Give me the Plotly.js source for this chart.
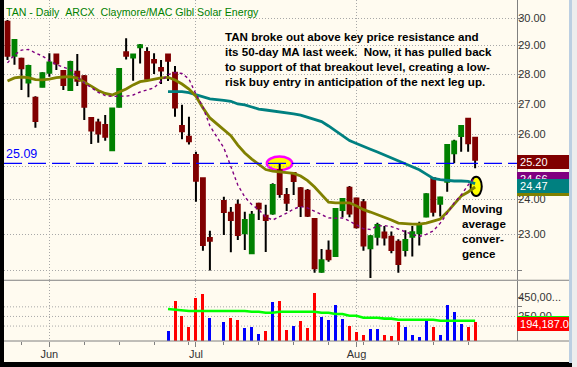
<!DOCTYPE html>
<html>
<head>
<meta charset="utf-8">
<script src="https://cdn.plot.ly/plotly-3.0.1.min.js"></script>
<style>
  html, body { margin: 0; padding: 0; background: #000; }
  #wrap { position: relative; width: 577px; height: 367px; background: #000; overflow: hidden; }
  #strip { position: absolute; left: 569px; top: 0; width: 3px; height: 363px; background: #BCCFE2; }
  #edge { position: absolute; left: 572px; top: 0; width: 5px; height: 367px; background: #EDEDED; }
  #chart { position: absolute; left: 4px; top: 0; width: 565px; height: 362px; }
</style>
</head>
<body>
<div id="wrap">
  <div id="strip"></div>
  <div id="edge"></div>
  <div id="chart"></div>
</div>
<script>
// ---------------- DATA ----------------
const dates = [
  '2008-05-22','2008-05-23','2008-05-27','2008-05-28','2008-05-29','2008-05-30',
  '2008-06-02','2008-06-03','2008-06-04','2008-06-05','2008-06-06',
  '2008-06-09','2008-06-10','2008-06-11','2008-06-12','2008-06-13',
  '2008-06-16','2008-06-17','2008-06-18','2008-06-19','2008-06-20',
  '2008-06-23','2008-06-24','2008-06-25','2008-06-26','2008-06-27','2008-06-30',
  '2008-07-01','2008-07-02','2008-07-03','2008-07-04',
  '2008-07-07','2008-07-08','2008-07-09','2008-07-10','2008-07-11',
  '2008-07-14','2008-07-15','2008-07-16','2008-07-17','2008-07-18',
  '2008-07-21','2008-07-22','2008-07-23','2008-07-24','2008-07-25',
  '2008-07-28','2008-07-29','2008-07-30','2008-07-31','2008-08-01',
  '2008-08-04','2008-08-05','2008-08-06','2008-08-07','2008-08-08',
  '2008-08-11','2008-08-12','2008-08-13','2008-08-14','2008-08-15',
  '2008-08-18','2008-08-19','2008-08-20','2008-08-21','2008-08-22',
  '2008-08-25','2008-08-26'
];
const openP = [29.86,28.64,28.53,27.71,27.20,27.57,28.05,28.68,28.11,27.46,28.08,27.93,26.53,26.38,26.30,25.50,26.90,28.76,28.58,28.94,28.77,28.49,28.21,28.68,28.05,26.27,25.92,25.35,24.63,22.89,null,
  23.95,23.61,23.84,23.02,22.46,23.87,23.52,23.59,24.88,24.13,24.79,24.33,24.26,23.43,21.96,22.53,22.39,23.69,24.35,24.03,23.92,22.60,22.92,23.04,22.92,22.78,22.55,22.92,23.02,23.50,24.63,23.87,24.53,25.40,25.95,26.50,25.89];
const highP = [29.93,29.23,28.57,28.32,27.25,28.06,28.73,28.70,28.14,28.46,28.70,27.97,26.56,26.50,26.63,26.86,28.21,29.26,28.69,29.06,28.94,28.73,28.49,28.70,28.28,26.96,26.57,25.45,24.64,23.09,null,
  24.08,23.78,24.00,23.64,23.66,23.90,23.84,24.48,25.10,24.34,24.82,24.37,24.31,23.46,22.58,22.82,23.75,24.03,24.40,24.05,24.01,22.97,23.32,23.23,23.07,22.85,23.11,23.23,23.35,24.18,24.66,24.08,25.69,25.83,26.30,26.51,25.91];
const lowP = [28.49,28.32,27.46,27.21,26.21,27.55,27.91,28.14,27.46,27.42,27.59,26.46,25.69,25.73,25.80,25.47,26.87,28.51,27.77,28.37,27.82,28.00,27.66,27.76,26.57,25.84,25.68,23.93,22.53,21.99,null,
  22.97,22.49,22.83,22.55,22.44,23.40,22.50,23.55,24.05,23.66,24.13,23.49,23.49,21.93,21.93,22.23,22.36,23.48,23.48,23.16,22.53,21.79,22.68,22.68,22.46,21.93,22.37,22.37,22.68,23.48,23.50,23.50,24.23,25.09,25.45,25.45,24.94];
const closeP = [28.64,29.20,28.20,28.28,26.43,28.03,28.40,28.37,27.63,28.42,27.77,26.90,26.12,26.03,25.92,26.84,28.18,28.64,28.68,29.01,27.84,28.40,28.12,28.46,26.87,26.10,25.78,24.56,22.69,22.81,null,
  23.63,23.40,22.97,23.40,23.55,23.73,23.40,24.43,24.16,23.90,24.55,23.81,23.52,22.05,22.27,22.30,23.72,24.01,23.59,23.19,22.68,22.94,23.26,22.90,22.55,22.17,22.83,23.05,23.26,24.15,23.64,24.06,25.66,25.77,26.27,25.72,25.20];
const ma10 = [28.39,28.67,28.84,28.86,28.74,28.63,28.47,28.33,28.24,28.16,27.90,27.70,27.54,27.38,27.27,27.24,27.25,27.25,27.29,27.39,27.46,27.53,27.76,27.98,28.05,28.02,27.83,27.32,26.89,26.27,null,
  25.57,25.01,24.43,24.07,23.85,23.70,23.49,23.40,23.49,23.60,23.72,23.79,23.75,23.66,23.56,23.46,23.45,23.46,23.37,23.27,23.15,23.13,23.23,23.24,23.21,23.14,23.06,22.99,22.93,22.99,23.09,23.31,23.59,23.90,24.13,24.43,24.66];
const ma20 = [27.76,27.87,27.90,27.88,27.81,27.80,27.83,27.88,27.90,27.91,27.86,27.73,27.59,27.44,27.34,27.29,27.39,27.49,27.63,27.74,27.78,27.83,27.87,27.89,27.80,27.66,27.49,27.25,26.86,26.53,null,
  26.16,25.96,25.66,25.41,25.22,25.07,24.90,24.85,24.83,24.81,24.78,24.70,24.56,24.37,24.15,23.92,23.90,23.90,23.90,23.81,23.70,23.63,23.56,23.47,23.40,23.31,23.29,23.28,23.28,23.31,23.37,23.43,23.63,23.87,24.10,24.22,24.37];
const ma50 = [null,null,null,null,null,null,null,null,null,null,null,null,null,null,null,null,null,null,null,null,null,null,null,
  27.40,27.40,27.40,27.37,27.30,27.23,27.16,null,
  27.11,27.08,26.99,26.96,26.89,26.82,26.79,26.76,26.74,26.70,26.66,26.62,26.55,26.49,26.41,26.27,26.12,25.96,25.80,25.71,25.63,25.53,25.44,25.35,25.26,25.16,25.07,24.98,24.89,24.76,24.63,24.59,24.56,24.55,24.55,24.54,24.47];
const volume = [null,null,null,null,null,null,null,null,null,null,null,null,null,null,null,null,null,null,null,null,null,null,null,
  102000,414000,258000,143000,442000,486000,234000,null,
  195000,237000,213000,130000,140000,71000,102000,403000,414000,112000,154000,206000,133000,494000,247000,216000,369000,227000,154000,91000,60000,120000,120000,60000,50000,195000,140000,60000,36000,216000,143000,60000,372000,299000,175000,143000,194187];
const volMA = [null,null,null,null,null,null,null,null,null,null,null,null,null,null,null,null,null,null,null,null,null,null,null,
  327000,320000,307000,307000,307000,307000,307000,null,
  307000,307000,307000,307000,299000,299000,289000,289000,299000,299000,299000,299000,299000,299000,289000,289000,275000,275000,258000,258000,237000,237000,237000,227000,227000,216000,216000,216000,216000,216000,216000,206000,206000,206000,206000,206000,206000];
const monthTickDates = ['2008-06-02','2008-07-01','2008-08-01'];
const monthTickLabels = ['Jun','Jul','Aug'];
const weekTickDates = ['2008-05-27','2008-06-09','2008-06-16','2008-06-23','2008-06-30','2008-07-07','2008-07-14','2008-07-21','2008-07-28','2008-08-04','2008-08-11','2008-08-18','2008-08-25'];
const priceTicks = [22,23,24,25,26,27,28,29,30];
const priceTickLabels = ['', '23.00', '24.00', '', '26.00', '27.00', '28.00', '29.00', '30.00'];
const volTicks = [150000,250000,350000,450000];
const volTickLabels = ['', '250,00...', '', '450,00...'];
const breakoutLevel = 25.09;
const titleText = 'TAN - Daily\u00a0\u00a0ARCX\u00a0\u00a0Claymore/MAC Glbl Solar Energy';
const noteText = 'TAN broke out above key price resistance and<br>its 50-day MA last week.\u00a0\u00a0Now, it has pulled back<br>to support of that breakout level, creating a low-<br>risk buy entry in anticipation of the next leg up.';
const maNote = 'Moving<br>average<br>conver-<br>gence';

// ---------------- BUILD ----------------
const F = 'Liberation Sans, Arial, sans-serif';
const BG = '#FFFBF0';
const idx = dates.map((d, i) => i);
const valid = idx.filter(i => openP[i] !== null);
const xs = valid;
const o = valid.map(i => openP[i]), c = valid.map(i => closeP[i]);
const h = valid.map(i => highP[i]), l = valid.map(i => lowP[i]);
const bodyHi = valid.map(i => Math.max(openP[i], closeP[i]));
const bodyLo = valid.map(i => Math.min(openP[i], closeP[i]));
const mid = valid.map(i => (openP[i] + closeP[i]) / 2);

const vIdx = idx.filter(i => volume[i] !== null);
let prevClose = null;
const closeBefore = {};
idx.forEach(i => { if (closeP[i] !== null) { closeBefore[i] = prevClose; prevClose = closeP[i]; } });
const vColors = vIdx.map(i => (closeBefore[i] !== null && closeP[i] >= closeBefore[i]) ? '#0000FF' : '#FF0000');

const wick = {
  type: 'candlestick', x: xs, open: mid, close: mid, high: h, low: l,
  whiskerwidth: 0, hoverinfo: 'skip',
  increasing: {line: {color: '#000000', width: 2}, fillcolor: '#000000'},
  decreasing: {line: {color: '#000000', width: 2}, fillcolor: '#000000'},
  xaxis: 'x', yaxis: 'y'
};
const body = {
  type: 'candlestick', x: xs, open: o, close: c, high: bodyHi, low: bodyLo,
  whiskerwidth: 0, hoverinfo: 'skip',
  increasing: {line: {color: '#008000', width: 2}, fillcolor: '#008000'},
  decreasing: {line: {color: '#800000', width: 2}, fillcolor: '#800000'},
  xaxis: 'x', yaxis: 'y'
};
const line = (y, color, width, dash) => ({
  type: 'scatter', mode: 'lines', x: idx, y: y, connectgaps: true, hoverinfo: 'skip',
  line: {color: color, width: width, dash: dash || 'solid'}, xaxis: 'x', yaxis: 'y'
});
const volBars = {
  type: 'bar', x: vIdx, y: vIdx.map(i => volume[i]), width: 0.43,
  marker: {color: vColors, line: {width: 0}}, hoverinfo: 'skip', xaxis: 'x', yaxis: 'y2'
};
const volLine = {
  type: 'scatter', mode: 'lines', x: idx, y: volMA, connectgaps: true, hoverinfo: 'skip',
  line: {color: '#00FF00', width: 2.6}, xaxis: 'x', yaxis: 'y2'
};

const data = [wick, body,
  line(ma50, '#008080', 2.8),
  line(ma20, '#808000', 2.8),
  line(ma10, '#800080', 1.4, '3px,3px'),
  volBars, volLine];

const lg = Math.log10;
const last = a => { for (let i = a.length - 1; i >= 0; i--) if (a[i] !== null) return a[i]; };
const fullX = 565 / 513;
const gridCol = '#A8A8A8';
const dot = '1px,2px';

const tag = (val, txt, bg, yref) => ({
  xref: 'paper', x: 1, xanchor: 'left', yref: yref, y: yref === 'y' ? lg(val) : val,
  yanchor: 'middle', yshift: -2, text: '\u00a0' + txt, showarrow: false,
  bgcolor: bg, width: 52, height: 14, align: 'left', borderpad: 0, borderwidth: 0,
  font: {family: F, size: 11, color: '#FFFFFF'}
});

const annotations = [
  {xref: 'paper', yref: 'paper', x: 0, y: 1 - 12 / 341, xanchor: 'left', yanchor: 'middle', xshift: 1,
   text: titleText, showarrow: false, borderpad: 0, font: {family: F, size: 10.6, color: '#008000'}},
  {xref: 'paper', yref: 'paper', x: 220 / 513, y: 1 - 29 / 341, xanchor: 'left', yanchor: 'top', align: 'left',
   text: '<b>' + noteText + '</b>', showarrow: false, borderpad: 0, font: {family: F, size: 11.6, color: '#000000'}},
  {xref: 'paper', yref: 'paper', x: 457 / 513, y: 1 - 231 / 341, xanchor: 'left', yanchor: 'middle', align: 'left',
   text: '<b>' + maNote + '</b>', showarrow: false, borderpad: 0, font: {family: F, size: 11.6, color: '#000000'}},
  {xref: 'paper', yref: 'y', x: 0, y: lg(breakoutLevel), xanchor: 'left', yanchor: 'middle', xshift: 1, yshift: 9,
   text: breakoutLevel.toFixed(2), showarrow: false, borderpad: 0, font: {family: F, size: 12.5, color: '#0000FF'}},
  tag(last(ma10), last(ma10).toFixed(2), '#800080', 'y'),
  tag(last(ma20), last(ma20).toFixed(2), '#808000', 'y'),
  tag(last(ma50), last(ma50).toFixed(2), '#008080', 'y'),
  tag(last(closeP), last(closeP).toFixed(2), '#800000', 'y'),
  tag(last(volMA), last(volMA).toLocaleString('en-US'), '#00FF00', 'y2'),
  tag(last(volume), last(volume).toLocaleString('en-US') + '.0', '#FF0000', 'y2')
];

// shapes on a log axis take plain data values
const shapes = [
  {type: 'circle', layer: 'below', xref: 'x', yref: 'y', x0: 37.15, x1: 40.8, y0: 24.88, y1: 25.30,
   line: {color: '#FF00FF', width: 2.5}, fillcolor: '#FFFF00'},
  {type: 'circle', layer: 'below', xref: 'x', yref: 'y', x0: 66.35, x1: 67.95, y0: 24.10, y1: 24.68,
   line: {color: '#000000', width: 2}, fillcolor: '#FFFF00'},
  ...[150000, 250000, 350000].map(v => ({type: 'line', layer: 'below', xref: 'paper', yref: 'y2', x0: 0, x1: 1, y0: v, y1: v,
   line: {color: gridCol, width: 1, dash: dot}})),
  {type: 'line', xref: 'paper', yref: 'y', x0: 0, x1: 1, y0: breakoutLevel, y1: breakoutLevel,
   line: {color: '#0000FF', width: 1.2, dash: '18px,6px'}},
  {type: 'line', xref: 'paper', yref: 'paper', x0: 0, x1: fullX, y0: 1 - 280.25 / 341, y1: 1 - 280.25 / 341,
   line: {color: '#808080', width: 1}},
  {type: 'line', xref: 'paper', yref: 'paper', x0: 0, x1: fullX, y0: 0, y1: 0,
   line: {color: '#808080', width: 1}}
];

const tickFont = {family: F, size: 11, color: '#333333'};
const layout = {
  width: 565, height: 362,
  margin: {l: 0, r: 52, t: 0, b: 21, pad: 0},
  paper_bgcolor: BG, plot_bgcolor: BG,
  showlegend: false, hovermode: false, dragmode: false,
  boxmode: 'overlay', boxgap: 0.45, boxgroupgap: 0, bargap: 0,
  xaxis: {
    type: 'linear', range: [-0.5, 73.0], anchor: 'y2', fixedrange: true,
    tickmode: 'array', tickvals: monthTickDates.map(d => dates.indexOf(d)), ticktext: monthTickLabels,
    ticks: 'outside', ticklen: 5, tickwidth: 1, tickcolor: '#808080', ticklabelstandoff: -2,
    showgrid: true, gridcolor: gridCol, griddash: dot, gridwidth: 1,
    zeroline: false, showline: false, tickfont: tickFont,
    minor: {tickmode: 'array', tickvals: weekTickDates.map(d => dates.indexOf(d)), ticks: 'outside', ticklen: 3,
            tickwidth: 1, tickcolor: '#808080', showgrid: false},
    rangeslider: {visible: false}
  },
  yaxis: {
    type: 'log', domain: [1 - 280 / 341, 1], range: [1.33717, 1.48674], side: 'right', anchor: 'x', fixedrange: true,
    tickmode: 'array', tickvals: priceTicks, ticktext: priceTickLabels,
    ticks: 'outside', ticklen: 4, tickwidth: 1, tickcolor: '#808080', ticklabelstandoff: -6,
    showgrid: true, gridcolor: gridCol, griddash: dot, gridwidth: 1,
    zeroline: false, showline: true, linecolor: '#808080', linewidth: 1, tickfont: tickFont
  },
  yaxis2: {
    type: 'linear', domain: [0, 1 - 280.5 / 341], range: [-5200, 623700], side: 'right', anchor: 'x', fixedrange: true,
    tickmode: 'array', tickvals: volTicks, ticktext: volTickLabels,
    ticks: 'outside', ticklen: 4, tickwidth: 1, tickcolor: '#808080', ticklabelstandoff: -6,
    showgrid: false, zeroline: false, showline: true, linecolor: '#808080', linewidth: 1, tickfont: tickFont
  },
  annotations: annotations,
  shapes: shapes
};

Plotly.newPlot('chart', data, layout, {displayModeBar: false, staticPlot: true});
</script>
</body>
</html>
